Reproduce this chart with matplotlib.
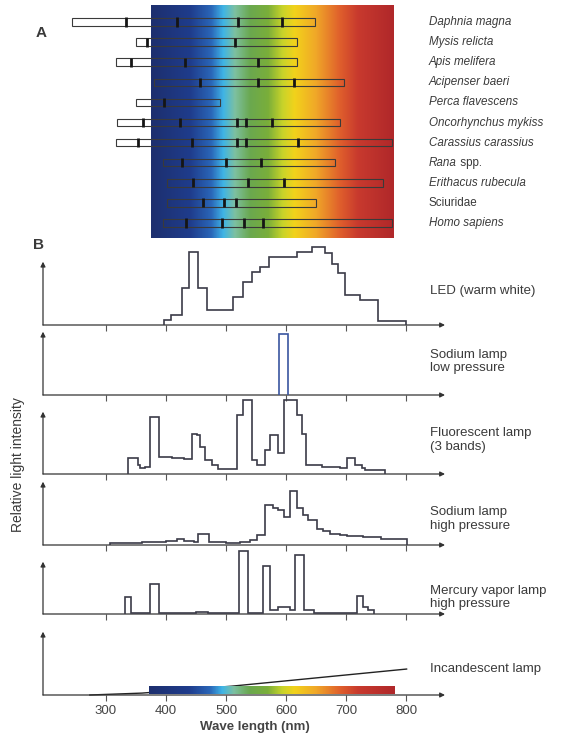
import numpy as np
import matplotlib
matplotlib.use("Agg")
import matplotlib.pyplot as plt
from matplotlib.colors import LinearSegmentedColormap
from matplotlib.patches import Rectangle

plt.rcParams['font.family'] = ['Liberation Sans', 'DejaVu Sans']

# ---------------- data ----------------
species = ["Daphnia magna", "Mysis relicta", "Apis melifera", "Acipenser baeri",
           "Perca flavescens", "Oncorhynchus mykiss", "Carassius carassius",
           "Rana", "Erithacus rubecula", "Sciuridae", "Homo sapiens"]
bar_start = [244, 350, 317, 380, 350, 319, 316, 395, 401, 401, 395]
bar_end = [648, 618, 618, 696, 490, 690, 776, 682, 762, 650, 776]
peaks = [[334, 418, 520, 594],
         [369, 515],
         [341, 432, 553],
         [457, 554, 613],
         [396],
         [361, 423, 519, 533, 576],
         [354, 444, 519, 534, 620],
         [427, 500, 559],
         [445, 537, 597],
         [462, 497, 517],
         [434, 494, 530, 562]]

led_edges = [397, 409, 426, 438, 454, 468, 512, 529, 544, 557, 572, 618, 643, 665,
             676, 687, 698, 723, 754, 800]
led_vals = [0.08, 0.16, 0.58, 1.16, 0.58, 0.24, 0.45, 0.68, 0.84, 0.92, 1.07, 1.16,
            1.23, 1.14, 0.97, 0.82, 0.47, 0.39, 0.07]

nalp_edges = [589, 603]
nalp_vals = [0.96]

fl_edges = [336, 346, 354, 357, 365, 373, 389, 410, 430, 443, 451, 457, 465, 476, 487,
            518, 529, 544, 551, 565, 573, 587, 596, 618, 626, 634, 660, 690, 701, 715,
            726, 732, 765]
fl_vals = [0.25, 0.26, 0.14, 0.09, 0.12, 0.91, 0.28, 0.26, 0.24, 0.65, 0.62, 0.44, 0.22,
           0.14, 0.08, 0.95, 1.19, 0.22, 0.14, 0.39, 0.63, 0.33, 1.19, 0.95, 0.65, 0.14,
           0.12, 0.10, 0.25, 0.14, 0.10, 0.07]

nahp_edges = [307, 360, 400, 418, 430, 446, 454, 471, 500, 523, 540, 551, 565, 579, 587,
              596, 606, 618, 629, 637, 651, 662, 673, 690, 701, 729, 759, 801]
nahp_vals = [0.03, 0.04, 0.06, 0.09, 0.06, 0.04, 0.17, 0.04, 0.03, 0.05, 0.08, 0.16, 0.63,
             0.59, 0.56, 0.45, 0.86, 0.59, 0.47, 0.39, 0.26, 0.22, 0.18, 0.16, 0.14, 0.12,
             0.09]

hg_edges = [331, 341, 373, 389, 450, 470, 522, 537, 562, 574, 587, 607, 615, 630, 646,
            719, 729, 737, 746]
hg_vals = [0.32, 0.02, 0.57, 0.02, 0.03, 0.02, 1.20, 0.02, 0.92, 0.08, 0.14, 0.08, 1.13,
           0.08, 0.02, 0.35, 0.13, 0.07]

inc_wl = [273, 360, 510, 801]
inc_vals = [0.0, 0.03, 0.14, 0.41]

lamp_labels = ["LED (warm white)", "Sodium lamp\nlow pressure", "Fluorescent lamp\n(3 bands)",
               "Sodium lamp\nhigh pressure", "Mercury vapor lamp\nhigh pressure",
               "Incandescent lamp"]
xticks = [300, 400, 500, 600, 700, 800]

# visible spectrum colour stops (nm, colour)
spec_nm = [375, 440, 475, 495, 515, 540, 570, 595, 615, 650, 690, 720, 780]
spec_col = ["#1d2f6e", "#1f3c8c", "#2a66b8", "#3fb4e6", "#7dc0a0", "#6aa84f", "#7aae3a",
            "#c9d42a", "#f2d21b", "#f0a828", "#e0602c", "#c83a2e", "#b0282a"]

# ---------------- figure ----------------
W, H = 564, 737
fig = plt.figure(figsize=(W / 100, H / 100), dpi=100)


def box(x0, y_top, x1, y_bot):
    return [x0 / W, 1 - y_bot / H, (x1 - x0) / W, (y_bot - y_top) / H]


XL = (195, 865)
s0, s1 = spec_nm[0], spec_nm[-1]
cmap = LinearSegmentedColormap.from_list(
    "spec", [((n - s0) / (s1 - s0), c) for n, c in zip(spec_nm, spec_col)])
grad = np.linspace(0, 1, 600)[None, :]
txtc = "#3a3a3a"
linec = "#3b3b48"

# ---------- Panel A ----------
axA = fig.add_axes(box(43, 5, 445, 238))
yb, yt = 10.75, -0.85
axA.set_xlim(*XL)
axA.set_ylim(yb, yt)
axA.axis("off")
axA.imshow(grad, extent=(s0, s1, yb, yt), aspect="auto", cmap=cmap, zorder=1)
bh = 0.38
for i, (name, a, b, pk) in enumerate(zip(species, bar_start, bar_end, peaks)):
    if a < s0:
        axA.add_patch(Rectangle((a, i - bh / 2), s0 - a, bh, facecolor="white",
                                edgecolor="none", zorder=2))
    axA.add_patch(Rectangle((a, i - bh / 2), b - a, bh, facecolor="none",
                            edgecolor="#3a3a3a", lw=0.8, zorder=3))
    axA.vlines(pk, i - bh / 2 - 0.04, i + bh / 2 + 0.04, color="#151515", lw=2.0, zorder=4)
    style = "normal" if name == "Sciuridae" else "italic"
    t = axA.text(838, i, name, fontsize=8.4, style=style, color=txtc, va="center",
                 ha="left", clip_on=False)
    if name == "Rana":
        axA.annotate(" spp.", xy=(1, 0), xycoords=t, va="bottom", ha="left",
                     fontsize=8.4, color=txtc)

fig.text(41 / W, 1 - 33 / H, "A", fontsize=11, fontweight="bold", color=txtc,
         ha="center", va="center")
fig.text(39 / W, 1 - 245 / H, "B", fontsize=11, fontweight="bold", color=txtc,
         ha="center", va="center")

# ---------- Panel B ----------
panels = [(261.7, 325), (331.7, 395), (411.7, 474), (481.7, 545), (561.7, 614), (631.7, 695)]
label_y = [291, 361.5, 440, 519, 597.5, 669]
series = [(led_edges, led_vals), (nalp_edges, nalp_vals), (fl_edges, fl_vals),
          (nahp_edges, nahp_vals), (hg_edges, hg_vals), None]

for k, ((top, base), ser) in enumerate(zip(panels, series)):
    ax = fig.add_axes(box(43, top, 445, base))
    ax.set_xlim(*XL)
    ax.set_ylim(0, 1)
    ax.patch.set_alpha(0)
    for sp in ax.spines.values():
        sp.set_visible(False)
    ax.set_yticks([])
    ax.set_xticks(xticks)
    ax.tick_params(axis="x", direction="out", length=4, width=0.8, color="#555555",
                   labelbottom=(k == 5), labelsize=9.5, labelcolor="#444444", pad=3)
    ap = dict(arrowstyle="-|>", color="#333333", lw=0.9, mutation_scale=7,
              shrinkA=0, shrinkB=0)
    ax.annotate("", xy=(1, 0), xytext=(0, 0), xycoords="axes fraction", arrowprops=ap)
    ax.annotate("", xy=(0, 1), xytext=(0, 0), xycoords="axes fraction", arrowprops=ap)
    if ser is not None:
        e, v = ser
        col = "#3a55a0" if k == 1 else linec
        ax.stairs(v, e, baseline=0, color=col, lw=1.2, clip_on=False, zorder=3)
    else:
        ax.plot(inc_wl, inc_vals, color="#222222", lw=1.0, zorder=2, clip_on=False)
        ax.imshow(grad, extent=(372, 781, 0.016, 0.13), aspect="auto", cmap=cmap, zorder=3)
        ax.set_xlim(*XL)
        ax.set_ylim(0, 1)
    fig.text(430 / W, 1 - label_y[k] / H, lamp_labels[k], fontsize=9.5, color=txtc,
             ha="left", va="center", linespacing=1.15)

fig.text(254.5 / W, 1 - 727 / H, "Wave length (nm)", fontsize=9.5, fontweight="bold",
         color="#444444", ha="center", va="center")
fig.text(18 / W, 1 - 465 / H, "Relative light intensity", fontsize=10, color=txtc,
         rotation=90, ha="center", va="center")

fig.savefig("out.png", dpi=100)
